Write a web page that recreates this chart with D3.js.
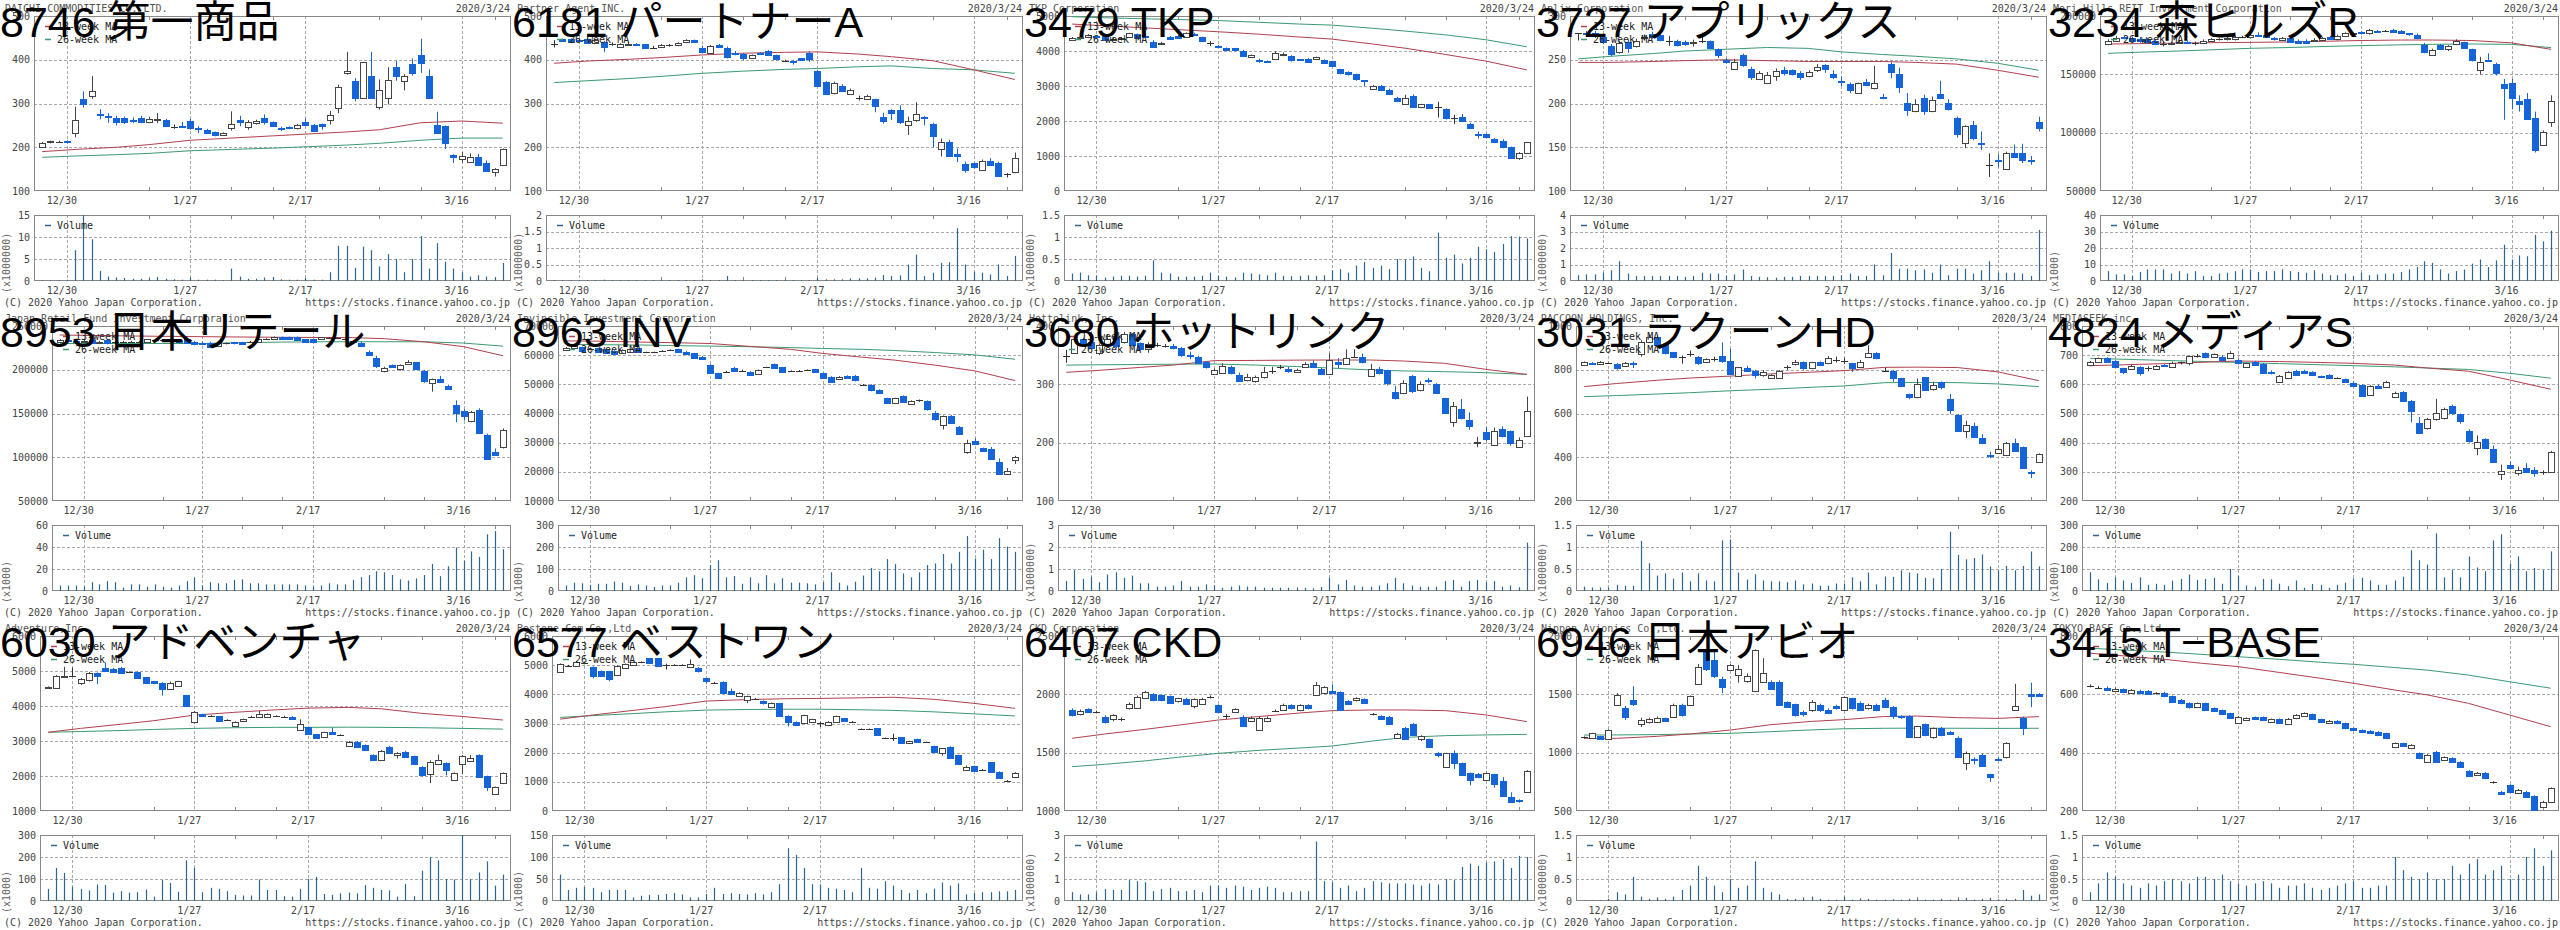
<!DOCTYPE html>
<html><head><meta charset="utf-8">
<script src="https://cdn.jsdelivr.net/npm/d3@7"></script>
<style>html,body{margin:0;padding:0;background:#fff;}svg{display:block}</style>
</head><body>
<svg id="chart" width="2560" height="930"></svg>
<script>
// ---------- categories ----------
const tradingDays = ["12/25","12/26","12/27","12/30","1/6","1/7","1/8","1/9","1/10","1/14","1/15","1/16","1/17","1/20","1/21","1/22","1/23","1/24","1/27","1/28","1/29","1/30","1/31","2/3","2/4","2/5","2/6","2/7","2/10","2/12","2/13","2/14","2/17","2/18","2/19","2/20","2/21","2/25","2/26","2/27","2/28","3/2","3/3","3/4","3/5","3/6","3/9","3/10","3/11","3/12","3/13","3/16","3/17","3/18","3/19","3/23","3/24"];
const gridDays = ["12/30","1/27","2/17","3/16"];
const weekTickDays = ["1/20","2/3","2/10","3/2","3/9","3/23"];
const maDays = ["12/25","1/6","1/14","1/20","1/27","2/3","2/10","2/17","2/25","3/2","3/9","3/16","3/24"];

const titles = ["8746 第一商品","6181 パートナーA","3479 TKP","3727 アプリックス","3234 森ヒルズR","8953 日本リテール","8963 INV","3680 ホットリンク","3031 ラクーンHD","4824 メディアS","6030 アドベンチャ","6577 ベストワン","6407 CKD","6946 日本アビオ","3415 T−BASE"];
const companies = ["DAICHI COMMODITIES CO.,LTD.","Partner Agent INC.","TKP Corporation","Aplix Corporation","Mori Hills REIT Investment Corporation","Japan Retail Fund Investment Corporation","Invincible Investment Corporation","Hottolink, Inc.","RACCOON HOLDINGS, Inc.","MEDIASEEK,inc.","Adventure,Inc.","Bestone.Com Co.,Ltd","CKD Corporation","Nippon Avionics Co.,Ltd.","TOKYO BASE Co.,Ltd."];
const priceTicks = [[100,200,300,400,500],[100,200,300,400,500],[0,1000,2000,3000,4000,5000],[100,150,200,250,300],[50000,100000,150000,200000],[50000,100000,150000,200000,250000],[10000,20000,30000,40000,50000,60000,70000],[100,200,300,400],[200,400,600,800,1000],[200,300,400,500,600,700,800],[1000,2000,3000,4000,5000,6000],[0,1000,2000,3000,4000,5000,6000],[1000,1500,2000,2500],[500,1000,1500,2000],[200,400,600,800]];
const volTicks = [[0,5,10,15],[0,0.5,1,1.5,2],[0,0.5,1,1.5],[0,1,2,3,4],[0,10,20,30,40],[0,20,40,60],[0,100,200,300],[0,1,2,3],[0,0.5,1,1.5],[0,100,200,300],[0,100,200,300],[0,50,100,150],[0,1,2,3],[0,0.5,1,1.5],[0,0.5,1,1.5]];
const volUnits = ["(x1000000)","(x1000000)","(x1000000)","(x1000000)","(x1000)","(x1000)","(x1000)","(x1000000)","(x1000000)","(x1000)","(x1000)","(x1000)","(x1000000)","(x1000000)","(x1000000)"];

// ---------- series: [open, high, low, close] ----------
const ohlc_8746 = [[201,212,199,210],[211,215,209,214],[213,215,211,213],[214,216,209,211],[232,293,223,262],[310,328,291,300],[318,363,311,329],[275,287,264,273],[272,278,256,270],[267,272,250,257],[266,270,253,257],[262,268,255,261],[268,272,255,258],[258,270,255,265],[264,278,255,265],[262,265,246,249],[247,252,242,247],[248,258,245,247],[259,265,240,243],[245,248,232,241],[239,242,230,232],[234,236,225,227],[227,234,226,233],[245,282,238,254],[262,272,248,258],[246,262,240,257],[255,263,252,260],[268,275,252,258],[257,259,247,249],[245,247,237,242],[246,248,241,243],[243,253,241,250],[257,266,248,251],[252,253,236,238],[253,254,240,248],[262,283,252,273],[289,343,278,337],[369,418,366,375],[351,358,305,313],[313,395,312,394],[363,418,311,313],[291,355,286,331],[313,383,298,354],[383,398,352,364],[351,367,330,364],[390,403,364,370],[411,448,370,393],[363,378,313,313],[250,281,233,233],[249,250,196,210],[182,184,164,177],[173,189,165,180],[167,186,165,178],[178,185,158,160],[165,170,145,146],[144,152,133,150],[159,197,158,196]];
const vol_8746 = [0.2,0.2,0.2,0.3,7,15,9.5,2.3,1,0.8,0.7,0.5,0.5,0.5,0.9,0.5,0.4,0.3,0.8,0.3,0.3,0.3,0.2,2.8,1,0.5,0.5,0.8,0.9,0.4,0.3,0.3,0.7,0.3,0.3,2,8,8,3,7.8,7,3.3,6.1,5,2,5,10.2,2.8,8.6,4.4,2.8,2,1,1.3,1,0.8,4.1];
const ma13_8746 = [190,195,200,206,216,221,226,230,235,240,256,260,255];
const ma26_8746 = [177,180,183,186,192,195,198,201,205,209,216,221,221];

const ohlc_6181 = [[437,445,428,437],[447,448,442,444],[447,449,438,440],[445,447,440,444],[447,450,436,439],[439,447,437,445],[441,443,418,430],[437,440,432,437],[430,438,429,437],[436,440,433,437],[437,438,432,434],[435,436,427,428],[428,432,425,428],[429,436,427,434],[434,436,430,434],[433,440,431,438],[440,447,438,445],[445,446,439,440],[428,432,415,418],[415,434,414,432],[434,436,428,430],[428,430,403,407],[416,420,410,415],[413,415,399,403],[405,412,403,410],[415,417,411,414],[419,422,409,411],[410,412,399,401],[398,400,396,398],[397,399,389,396],[403,404,397,399],[415,419,395,402],[374,377,339,341],[349,351,319,321],[323,350,321,348],[340,344,326,329],[321,334,320,332],[312,318,307,312],[310,320,308,317],[310,311,280,294],[270,279,254,259],[285,287,262,278],[285,296,253,257],[250,270,228,261],[262,303,258,275],[270,271,250,267],[253,256,200,226],[196,220,179,213],[213,217,178,180],[185,197,166,180],[162,167,142,148],[163,165,151,156],[148,172,147,169],[169,175,158,160],[163,167,134,135],[138,141,131,138],[143,188,141,176]];
const vol_6181 = [0.03,0.03,0.03,0.03,0.03,0.03,0.04,0.03,0.03,0.03,0.03,0.03,0.03,0.03,0.03,0.03,0.03,0.03,0.05,0.03,0.03,0.15,0.03,0.03,0.03,0.03,0.03,0.03,0.03,0.03,0.03,0.03,0.1,0.05,0.05,0.05,0.08,0.08,0.08,0.1,0.18,0.15,0.17,0.5,0.8,0.15,0.25,0.55,0.57,1.6,0.5,0.28,0.25,0.2,0.5,0.15,0.76];
const ma13_6181 = [392,397,401,405,411,415,417,418,413,407,398,377,355];
const ma26_6181 = [348,352,357,362,369,374,378,380,384,386,380,377,369];

const ohlc_3479 = [[4320,4400,4300,4380],[4380,4420,4340,4390],[4390,4480,4370,4450],[4420,4450,4380,4410],[4430,4460,4290,4320],[4320,4400,4290,4350],[4350,4400,4300,4360],[4410,4520,4390,4500],[4480,4500,4350,4380],[4440,4480,4400,4430],[4270,4310,4090,4120],[4230,4260,4200,4240],[4410,4430,4330,4350],[4440,4460,4360,4380],[4410,4530,4390,4500],[4480,4520,4440,4470],[4390,4410,4280,4300],[4240,4280,4140,4240],[4150,4170,4090,4110],[4090,4100,4020,4040],[4080,4090,4020,4040],[4010,4030,3840,3860],[3820,3900,3800,3890],[3740,3780,3660,3730],[3720,3730,3700,3710],[3780,3990,3760,3930],[3900,3960,3850,3910],[3860,3880,3700,3740],[3760,3770,3730,3750],[3780,3800,3660,3680],[3760,3840,3740,3820],[3740,3760,3650,3670],[3710,3720,3540,3580],[3480,3490,3330,3380],[3410,3420,3300,3340],[3340,3350,3150,3190],[3160,3170,3000,3150],[2910,3030,2890,3010],[3000,3030,2860,2890],[2900,2920,2740,2770],[2670,2690,2540,2570],[2500,2750,2480,2670],[2710,2760,2390,2410],[2410,2490,2370,2480],[2480,2490,2370,2380],[2410,2550,2100,2410],[2340,2360,2040,2080],[2080,2180,1910,2080],[2120,2200,1970,2000],[1910,1950,1780,1790],[1630,1700,1500,1610],[1620,1640,1520,1530],[1490,1510,1380,1410],[1430,1480,1220,1270],[1250,1270,930,930],[930,1110,890,1100],[1100,1400,1080,1390]];
const vol_3479 = [0.17,0.19,0.13,0.12,0.08,0.1,0.12,0.12,0.1,0.12,0.47,0.19,0.17,0.1,0.1,0.1,0.12,0.19,0.12,0.1,0.08,0.19,0.17,0.15,0.13,0.19,0.12,0.11,0.12,0.13,0.12,0.13,0.24,0.27,0.19,0.35,0.43,0.3,0.35,0.27,0.5,0.49,0.56,0.3,0.22,1.1,0.53,0.6,0.4,0.53,0.78,0.72,0.66,0.84,1.02,1.01,0.97];
const ma13_3479 = [4770,4720,4660,4610,4550,4480,4400,4340,4200,4080,3900,3710,3460];
const ma26_3479 = [4980,4950,4920,4900,4870,4820,4770,4740,4650,4570,4460,4320,4120];

const ohlc_3727 = [[280,280,272,280],[281,283,277,280],[280,283,275,277],[276,278,268,270],[266,268,254,257],[259,272,257,269],[270,273,258,263],[266,274,264,272],[275,279,272,276],[279,282,274,276],[278,280,271,273],[272,277,266,272],[272,273,265,267],[270,272,266,268],[269,273,265,270],[272,281,269,272],[271,272,262,264],[262,263,252,256],[250,252,246,247],[240,251,239,248],[255,257,242,244],[240,242,227,230],[228,237,227,235],[224,236,223,233],[231,240,226,237],[238,242,232,235],[238,239,232,234],[235,237,227,230],[231,238,230,236],[238,245,236,242],[244,245,235,239],[234,238,228,230],[226,231,220,225],[222,224,212,215],[212,224,211,223],[225,228,220,221],[218,243,216,223],[208,211,206,207],[245,247,229,236],[234,241,212,219],[201,212,186,193],[192,205,190,200],[206,210,187,192],[191,208,190,204],[211,226,205,206],[201,205,192,194],[184,185,161,165],[155,175,149,174],[176,180,158,161],[155,168,147,154],[130,143,116,130],[135,142,127,134],[125,145,124,144],[143,153,138,139],[144,154,132,136],[136,140,130,135],[179,185,168,172]];
const vol_3727 = [0.35,0.4,0.4,0.5,0.65,1.2,0.45,0.3,0.3,0.3,0.3,0.3,0.3,0.25,0.3,0.5,0.45,0.45,0.3,0.4,0.7,0.3,0.25,0.2,0.2,0.25,0.25,0.3,0.3,0.3,0.3,0.3,0.35,0.45,0.3,0.3,1.0,0.35,1.7,0.75,0.75,0.65,0.7,0.5,1.0,0.35,0.75,0.75,0.45,0.65,1.2,0.5,0.5,0.5,0.45,0.3,3.1];
const ma13_3727 = [247,247,248,249,250,249,248,248,248,247,245,238,230];
const ma26_3727 = [251,254,257,260,262,264,263,259,256,254,251,246,238];

const ohlc_3234 = [[176000,180000,175000,179000],[179000,183000,178000,181000],[182000,183000,180000,181000],[181000,182000,178000,179000],[180000,182000,177000,179000],[180000,181000,176000,178000],[179000,180000,175000,176000],[176000,178000,174000,176000],[176000,178000,175000,177000],[177000,179000,176000,178000],[178000,179000,176000,176600],[177000,178000,175000,177000],[177000,180000,176000,179000],[179000,181000,178000,180000],[180000,181000,179000,180000],[180000,182000,179000,181000],[180000,183000,179000,182000],[182000,183000,181000,182000],[182000,185000,181000,184000],[184000,186000,182000,183700],[184000,185000,181000,182000],[181000,182000,179000,180000],[179500,182000,179000,181500],[181000,182000,177000,178000],[179000,180000,176000,177000],[179000,180000,176000,177000],[179000,181000,178000,179500],[179500,182000,179000,181500],[181800,183000,180000,180400],[180000,184000,179000,183000],[183000,186000,182000,185000],[185500,186000,185000,185700],[186600,187000,184000,185000],[185000,189000,184000,188000],[187500,188000,187000,187400],[187400,188000,186500,187400],[188000,189000,186000,186300],[187000,188000,185000,185700],[185000,185500,183000,184500],[184000,185000,180000,181000],[175000,177000,168000,169400],[167000,172000,166000,171000],[175000,176000,171000,172000],[172000,175000,170000,174000],[176000,180000,175000,179000],[177700,178000,172000,173000],[171400,172000,161000,162300],[154000,165000,150000,161000],[162000,168000,161000,161700],[159000,160000,149000,151400],[141700,146000,111000,138600],[143000,146000,120000,129400],[127400,132000,118000,125000],[129000,134000,111000,112000],[113000,118000,83000,85000],[89400,102000,89000,101000],[109400,132000,105000,127400]];
const vol_3234 = [6,4,4,3,5.5,7,7,7,4.5,6,4.5,6,3,3,4.5,5,6,7,7,5.5,6,6,7,6,5.5,5,6.5,4.5,3.5,3.5,4.5,3,5,3.5,4,4.5,4.5,5.5,7,8.5,12,11,7,4.5,6,7,10.5,13,8.5,12.5,22,13,15.5,15,28,24,30.5];
const ma13_3234 = [176000,176300,176800,177100,177400,177800,178400,179000,179400,179400,179000,177000,171400];
const ma26_3234 = [168000,169000,170000,171000,172300,173000,174000,174600,175300,175700,176000,175700,172900];

const ohlc_8953 = [[232000,235000,231000,234000],[234000,235000,232000,233000],[233000,234000,231000,232000],[232000,234000,231000,233000],[234000,235000,230000,231000],[231000,233000,230000,232000],[234000,235000,229000,230000],[232000,233000,231000,232000],[232000,233000,231000,232000],[232000,233000,231000,232000],[232000,233000,231000,232000],[232000,235000,231000,234700],[234000,235000,233000,234000],[234000,235000,233000,234000],[234000,235000,233000,234000],[234000,235000,231000,232000],[234700,235000,230000,231000],[232000,233000,228000,229000],[231000,232000,228000,229000],[231000,232000,225000,226400],[227500,231000,227000,230000],[230000,231000,229000,230000],[231700,232000,229000,230000],[231700,232000,229000,229800],[232000,233000,231000,232000],[232000,235000,231000,234700],[234700,236000,234000,234700],[234700,238000,234000,237000],[237800,238000,234000,235000],[237000,238000,234000,234700],[237800,238000,233000,234000],[234700,235000,231000,232000],[234700,235000,231000,232000],[234700,237500,234000,237000],[235900,237000,235000,235900],[235900,237000,235000,235900],[235000,236000,234000,235000],[232500,233000,231000,232000],[231000,232000,226000,227500],[220700,222000,216000,216900],[213000,216000,202000,204700],[198600,203500,197000,202400],[205400,206000,202000,202800],[200500,206000,199000,205400],[206600,211000,206000,209000],[208500,209000,200000,201200],[199000,200000,185000,187500],[184500,190000,175000,189000],[189400,193000,185000,186000],[181800,183000,177000,178000],[159700,165000,140000,150200],[152900,155000,142000,147500],[141800,153000,140000,151300],[154000,156000,127000,127300],[125400,127000,97000,97600],[106000,110000,102000,103000],[112000,133000,110000,131000]];
const vol_8953 = [5,5,5,4,8,6,9,8,3,6,6,4,6,4,3,5,9,12.5,5,8,7,7,10,10.5,7,7,6,6,6,6,6,5,4,5,7,6,6,10,12.5,14.5,18,17,14.5,10.5,9.5,11.5,14.5,24.5,13.5,22.5,39.5,27.5,36,31,51.5,54.5,38];
const ma13_8953 = [239700,239200,238600,238200,237800,237400,237100,236900,236700,235500,232000,226400,216000];
const ma26_8953 = [230000,230000,230000,230000,230000,231000,231600,232000,232000,232000,232000,230500,227000];

const ohlc_8963 = [[61800,62800,61600,62600],[62300,63300,62100,63100],[62700,62900,61300,61500],[62000,62300,61700,62000],[62300,62500,61000,61200],[62000,62200,60700,60900],[61500,61700,60100,60300],[60900,62000,60700,61800],[61200,62200,61000,62000],[62300,62500,61000,61200],[61000,61200,60800,61000],[61000,61200,60800,61000],[61500,61700,61300,61500],[61800,62000,61600,61800],[62000,62200,60900,61100],[61200,61400,60100,60300],[60600,60800,58700,58900],[59500,59700,58400,58600],[56600,56900,53500,54000],[53800,54000,52000,52300],[54300,54600,54000,54300],[55700,56000,54400,54600],[54700,55000,54500,54700],[54300,54500,53000,53200],[53600,55100,53400,54900],[55800,56000,55600,55800],[56900,57100,55300,55500],[55800,56000,54100,54300],[54600,54800,54400,54600],[54700,54900,54500,54700],[54900,55100,54700,54900],[55100,55300,54100,54300],[53800,54000,52100,52300],[52600,52800,50500,50700],[51700,52800,51500,52600],[52900,53100,52100,52300],[53000,53200,51000,51500],[49800,50100,49500,49800],[49800,50000,47600,48100],[48100,48300,46700,46900],[45200,45400,43500,43700],[43500,45400,43300,45200],[46000,46200,43900,44100],[43300,44500,43100,44300],[44600,44800,44000,44600],[44300,44500,41000,41400],[40300,40800,37500,38000],[36100,39300,34500,39100],[39100,39500,36400,36600],[35500,35700,32800,33000],[26900,31000,26200,29800],[30600,31500,29300,29500],[28100,28300,27100,27300],[27700,28500,24200,24400],[23500,24600,19000,19100],[19100,21300,18900,20300],[24100,25500,22700,25200]];
const vol_8963 = [25,38,35,28,33,33,43,38,22,30,25,18,25,25,38,62,72,58,118,140,62,68,33,62,35,72,35,58,38,38,35,30,40,85,38,25,42,70,105,90,145,122,80,62,85,118,125,168,125,178,250,148,188,145,240,202,178];
const ma13_8963 = [64900,64800,64500,64300,64000,63000,62000,60600,59300,58300,56600,54600,51300];
const ma26_8963 = [63700,63600,63500,63300,63100,62900,62600,62300,62000,61600,60900,60100,58600];

const ohlc_3680 = [[349,359,337,349],[354,378,352,377],[377,380,365,368],[373,376,360,362],[353,370,350,367],[368,385,366,377],[382,386,362,365],[373,390,370,387],[386,388,365,367],[370,372,358,361],[360,372,354,369],[367,371,364,367],[366,369,363,366],[366,369,360,362],[362,364,347,350],[350,356,343,349],[347,349,335,337],[339,340,327,329],[318,327,316,325],[320,336,318,331],[330,332,317,319],[316,320,304,306],[307,318,305,313],[305,315,303,313],[312,330,310,321],[323,330,318,323],[329,333,326,329],[327,330,320,323],[321,327,320,325],[329,338,328,335],[336,341,328,330],[327,328,317,318],[318,353,316,342],[339,345,328,335],[335,360,333,346],[347,360,345,347],[347,353,336,338],[314,335,313,327],[326,330,317,320],[324,325,298,302],[287,297,274,277],[286,307,283,302],[315,316,285,289],[290,305,288,300],[307,311,302,306],[300,302,285,286],[276,277,249,251],[235,270,227,263],[258,275,240,243],[239,252,222,229],[200,210,192,201],[218,227,203,206],[196,226,195,220],[223,228,209,211],[220,221,195,200],[193,209,192,205],[211,279,210,255]];
const vol_3680 = [0.45,0.95,0.55,0.65,0.4,0.75,0.85,0.6,0.7,0.35,0.35,0.2,0.2,0.25,0.45,0.2,0.2,0.3,0.25,0.15,0.2,0.25,0.2,0.2,0.15,0.15,0.15,0.15,0.12,0.15,0.12,0.18,0.6,0.3,0.5,0.25,0.2,0.2,0.25,0.35,0.6,0.35,0.25,0.2,0.2,0.2,0.45,0.5,0.2,0.45,0.5,0.4,0.45,0.2,0.25,0.15,2.2];
const ma13_3680 = [320.6,324,329,333,340.6,341,341.5,341.7,341.7,340,336,325.7,317];
const ma26_3680 = [333,333.5,334,334.5,334.9,333,330.5,328,324.6,323,321.7,320,317];

const ohlc_3031 = [[822,838,818,834],[832,835,822,825],[826,840,823,837],[829,833,826,829],[826,830,800,806],[819,835,816,832],[833,838,808,827],[870,935,860,928],[928,960,925,950],[951,960,910,913],[913,918,870,875],[880,882,855,860],[857,865,828,857],[870,888,860,870],[860,862,822,829],[834,852,830,849],[848,860,838,848],[863,925,832,842],[840,895,780,781],[773,813,770,811],[806,818,790,796],[796,800,760,774],[776,798,768,791],[761,780,758,776],[761,798,758,796],[814,820,800,814],[825,845,820,837],[837,838,800,806],[806,836,803,834],[834,838,818,822],[829,862,826,852],[845,860,833,845],[840,855,826,840],[829,832,790,806],[814,845,808,837],[857,912,855,878],[875,880,848,852],[796,810,790,796],[794,797,745,761],[761,763,722,726],[689,690,665,674],[674,760,670,735],[765,767,705,707],[710,745,705,730],[745,747,710,723],[666,690,598,616],[593,598,518,522],[521,567,488,547],[543,558,492,494],[486,505,460,464],[412,425,395,408],[418,455,415,436],[410,470,406,464],[467,485,425,430],[448,449,348,349],[333,340,305,329],[377,418,374,415]];
const vol_3031 = [0.1,0.08,0.08,0.08,0.14,0.12,0.12,1.14,0.63,0.35,0.4,0.28,0.42,0.22,0.4,0.24,0.22,1.15,1.17,0.42,0.26,0.38,0.24,0.22,0.22,0.2,0.24,0.15,0.17,0.12,0.12,0.17,0.17,0.31,0.22,0.42,0.15,0.33,0.32,0.47,0.42,0.4,0.3,0.29,0.5,1.35,0.82,0.72,0.75,0.83,0.56,0.47,0.57,0.47,0.57,0.9,0.56];
const ma13_3031 = [723,737,752,762,771,781,789,796,811,812,810,790,750];
const ma26_3031 = [677,682,689,695,704,711,720,726,741,742,741,735,723];

const ohlc_4824 = [[666,680,662,678],[678,692,676,689],[689,693,675,678],[680,683,658,660],[655,657,635,643],[651,668,649,664],[658,662,630,640],[655,662,645,655],[651,666,649,663],[668,670,660,663],[661,678,658,674],[675,678,668,675],[672,698,665,697],[697,704,692,697],[706,709,690,693],[693,706,691,703],[695,700,680,683],[691,714,688,709],[683,688,668,672],[661,674,658,672],[678,680,663,666],[670,673,637,640],[643,648,634,641],[609,632,606,629],[621,645,618,641],[646,650,629,632],[647,650,637,640],[642,645,630,632],[627,630,622,626],[632,635,619,621],[621,624,618,621],[618,620,606,609],[606,610,590,594],[598,600,557,560],[562,597,560,594],[595,600,587,589],[590,612,588,609],[558,575,555,569],[575,577,541,544],[544,546,470,510],[466,488,432,434],[449,485,445,481],[481,550,476,501],[483,520,480,515],[526,530,495,503],[497,500,465,475],[441,446,400,406],[381,425,357,403],[413,415,378,381],[377,390,330,335],[291,325,272,304],[323,335,308,312],[295,318,287,308],[312,330,297,300],[306,316,283,297],[298,305,290,298],[301,372,300,369]];
const vol_4824 = [85,53,37,62,48,37,62,28,33,28,47,55,75,50,55,60,33,100,68,25,20,55,53,33,22,48,15,32,28,15,28,38,57,60,48,28,28,48,65,185,140,120,262,62,95,62,157,107,90,230,258,125,157,90,105,95,180];
const ma13_4824 = [664,667,671,675,680,678,675,672,666,656,645,615,583];
const ma26_4824 = [689,686,682,679,675,671,667,664,660,656,651,638,621];

const ohlc_6030 = [[4520,4560,4500,4550],[4520,4880,4500,4870],[4860,5120,4800,4870],[4870,5100,4850,4870],[4650,4800,4600,4760],[4740,4970,4700,4950],[4950,4960,4620,4860],[5080,5240,4980,5010],[5060,5090,4950,4980],[5100,5120,4940,4950],[4960,4990,4940,4960],[4980,4990,4780,4790],[4820,4830,4640,4650],[4710,4720,4620,4650],[4670,4680,4300,4500],[4490,4700,4480,4650],[4580,4720,4560,4710],[4310,4320,3990,4010],[3530,3860,3500,3840],[3770,3780,3690,3710],[3720,3740,3700,3720],[3710,3720,3550,3570],[3600,3620,3580,3600],[3440,3560,3400,3530],[3570,3640,3550,3630],[3700,3720,3680,3700],[3700,3860,3680,3760],[3700,3790,3680,3770],[3710,3730,3690,3710],[3700,3720,3680,3700],[3700,3710,3620,3630],[3310,3620,3300,3480],[3390,3400,3180,3200],[3190,3200,3070,3080],[3120,3260,3100,3250],[3260,3380,3190,3200],[3170,3190,3150,3170],[2870,3000,2850,2960],[2980,3000,2830,2840],[2890,2900,2720,2740],[2600,2620,2450,2460],[2460,2740,2440,2720],[2840,2860,2630,2650],[2600,2680,2500,2670],[2700,2720,2540,2550],[2570,2580,2330,2340],[2270,2280,1980,2030],[2060,2450,1800,2410],[2330,2610,2320,2460],[2380,2390,2020,2170],[1900,2100,1870,2080],[2340,2600,2050,2570],[2430,2600,2400,2520],[2600,2620,1970,1980],[2000,2010,1570,1680],[1500,1700,1480,1680],[1790,2100,1780,2080]];
const vol_6030 = [55,150,128,65,55,48,75,73,38,45,38,40,52,20,95,82,42,185,150,40,60,55,45,28,25,25,98,50,50,22,20,55,100,110,32,28,35,38,35,72,60,50,48,20,78,22,138,200,185,100,98,300,100,130,180,70,120];
const ma13_6030 = [3250,3360,3480,3580,3740,3820,3890,3940,3960,3920,3790,3700,3600];
const ma26_6030 = [3250,3270,3300,3330,3360,3380,3390,3390,3395,3390,3380,3360,3340];

const ohlc_6577 = [[4780,5060,4750,5030],[4980,5010,4950,4980],[4980,5150,4950,5100],[5060,5090,5030,5060],[4950,4960,4550,4640],[4800,4820,4600,4640],[4800,4810,4450,4530],[4660,5000,4640,4980],[4890,5060,4870,5030],[5010,5120,5000,5100],[5100,5130,5070,5100],[5230,5240,5050,5060],[5230,5240,4960,4970],[5000,5050,4850,5000],[5000,5030,4970,5000],[5000,5030,4970,5000],[4950,5200,4940,5040],[4920,4930,4750,4810],[4550,4560,4380,4470],[4400,4430,4370,4400],[4430,4450,4040,4060],[4110,4200,3990,4010],[3940,4070,3920,4060],[3810,3950,3700,3940],[3840,3870,3810,3840],[3770,3790,3650,3690],[3580,3720,3550,3690],[3690,3700,3260,3270],[3270,3280,2900,3060],[3060,3070,2930,2950],[3010,3300,2990,3290],[3040,3160,3020,3150],[3010,3050,2880,3010],[2950,3080,2930,3060],[3060,3270,3040,3260],[3180,3190,3080,3100],[3060,3080,3040,3060],[2800,2830,2780,2800],[2800,2830,2780,2800],[2830,2840,2600,2610],[2490,2520,2470,2490],[2490,2650,2400,2490],[2530,2540,2330,2340],[2340,2410,2330,2400],[2470,2480,2370,2380],[2350,2380,2330,2350],[2230,2240,2020,2030],[2000,2160,1900,2150],[2210,2220,1800,1810],[1920,1930,1600,1610],[1410,1560,1380,1520],[1550,1560,1370,1380],[1410,1440,1390,1410],[1670,1680,1340,1350],[1350,1360,1110,1120],[1030,1060,1010,1030],[1180,1330,1170,1310]];
const vol_6577 = [60,25,30,32,30,20,25,25,25,8,12,14,14,16,18,15,8,8,16,30,16,18,16,15,18,15,20,38,120,105,75,38,38,30,28,25,20,75,30,28,45,35,25,18,25,18,28,42,35,40,15,18,20,20,22,22,25];
const ma13_6577 = [3150,3290,3450,3580,3770,3820,3850,3860,3880,3900,3830,3690,3520];
const ma26_6577 = [3210,3270,3340,3400,3460,3480,3490,3490,3470,3450,3400,3330,3260];

const ohlc_6407 = [[1870,1880,1810,1820],[1830,1870,1820,1860],[1875,1880,1845,1850],[1850,1860,1840,1850],[1810,1820,1750,1760],[1790,1830,1770,1820],[1790,1800,1770,1790],[1880,1930,1870,1920],[1885,1990,1880,1975],[1965,2030,1960,2020],[2000,2010,1940,1950],[1995,2000,1940,1950],[1985,1990,1920,1930],[1940,1970,1930,1965],[1960,1970,1910,1920],[1900,1965,1880,1960],[1920,1970,1910,1960],[1975,1990,1965,1975],[1910,1915,1845,1850],[1815,1830,1790,1815],[1850,1880,1840,1875],[1810,1820,1720,1730],[1775,1810,1770,1800],[1695,1810,1690,1800],[1775,1810,1760,1800],[1860,1870,1850,1860],[1870,1920,1860,1905],[1910,1915,1870,1880],[1865,1915,1855,1905],[1910,1915,1870,1880],[1995,2105,1990,2080],[2015,2070,2005,2065],[2030,2085,2000,2010],[2020,2025,1860,1870],[1945,1950,1910,1920],[1950,1975,1940,1970],[1960,1965,1920,1930],[1830,1840,1820,1830],[1815,1820,1780,1785],[1810,1815,1740,1745],[1630,1670,1625,1660],[1710,1720,1610,1620],[1750,1755,1645,1650],[1615,1650,1600,1645],[1615,1620,1540,1550],[1495,1505,1460,1480],[1380,1500,1370,1495],[1495,1520,1360,1415],[1410,1415,1300,1310],[1325,1330,1220,1270],[1320,1325,1280,1295],[1265,1330,1260,1325],[1315,1320,1200,1230],[1260,1290,1120,1125],[1120,1160,1070,1080],[1095,1100,1070,1085],[1165,1350,1160,1345]];
const vol_6407 = [0.4,0.3,0.3,0.4,0.55,0.5,0.5,0.95,0.9,0.85,0.45,0.55,0.6,0.45,0.45,0.5,0.4,0.7,0.7,0.6,0.7,0.65,0.5,0.6,0.65,0.6,0.4,0.4,0.45,0.45,2.7,0.9,0.85,0.6,0.7,0.45,0.6,0.9,0.85,0.8,0.8,0.8,0.75,0.7,0.8,0.75,1.0,0.95,1.55,1.7,1.6,1.75,1.8,1.9,1.5,2.05,2.0];
const ma13_6407 = [1623,1660,1700,1735,1780,1810,1840,1860,1866,1866,1860,1823,1766];
const ma26_6407 = [1380,1400,1430,1460,1494,1520,1540,1557,1600,1631,1646,1652,1657];

const ohlc_6946 = [[1131,1140,1120,1131],[1125,1170,1120,1165],[1140,1145,1110,1115],[1120,1200,1110,1195],[1410,1510,1400,1495],[1380,1400,1280,1310],[1450,1570,1400,1420],[1250,1300,1220,1280],[1265,1300,1250,1285],[1265,1310,1260,1300],[1295,1300,1265,1275],[1310,1420,1300,1410],[1410,1420,1310,1320],[1410,1490,1400,1485],[1585,1760,1580,1735],[1865,1880,1700,1715],[1795,1890,1640,1655],[1630,1650,1510,1565],[1710,1760,1700,1750],[1665,1750,1600,1720],[1615,1680,1600,1655],[1525,1885,1520,1880],[1610,1810,1600,1680],[1610,1620,1540,1550],[1610,1620,1400,1410],[1435,1440,1390,1395],[1415,1420,1310,1320],[1350,1360,1310,1330],[1365,1450,1350,1435],[1410,1420,1350,1365],[1370,1380,1330,1340],[1400,1410,1370,1380],[1370,1480,1360,1475],[1465,1470,1370,1380],[1430,1440,1360,1365],[1380,1420,1370,1410],[1410,1420,1355,1365],[1455,1470,1390,1395],[1395,1400,1290,1315],[1315,1320,1290,1310],[1315,1320,1130,1135],[1135,1230,1130,1225],[1245,1250,1140,1150],[1135,1215,1120,1210],[1215,1220,1140,1150],[1180,1185,1150,1160],[1130,1140,960,965],[910,1010,850,995],[950,960,900,935],[980,990,885,890],[815,820,750,790],[950,960,930,940],[960,1090,950,1085],[1365,1590,1360,1400],[1300,1310,1150,1210],[1500,1600,1390,1485],[1500,1510,1480,1490]];
const vol_6946 = [0.01,0.01,0.02,0.05,0.2,0.15,0.55,0.1,0.05,0.08,0.05,0.1,0.25,0.35,0.8,0.55,0.35,0.2,0.5,0.3,0.35,0.9,0.3,0.2,0.15,0.05,0.05,0.08,0.1,0.05,0.03,0.03,0.1,0.03,0.06,0.05,0.03,0.03,0.04,0.03,0.05,0.04,0.03,0.03,0.05,0.03,0.05,0.07,0.03,0.05,0.07,0.04,0.05,0.05,0.25,0.12,0.15];
const ma13_6946 = [1123,1123,1140,1160,1194,1240,1268,1283,1310,1314,1300,1294,1309];
const ma26_6946 = [1151,1152,1155,1160,1166,1180,1195,1205,1209,1210,1209,1208,1209];

const ohlc_3415 = [[629,634,624,629],[623,628,618,623],[623,627,612,615],[611,623,608,620],[617,620,606,609],[606,618,603,615],[613,616,600,603],[613,615,598,601],[603,607,599,603],[606,609,590,594],[594,596,572,575],[581,584,566,569],[571,573,551,555],[558,572,555,569],[569,571,543,546],[552,555,541,544],[546,548,530,533],[535,537,517,520],[503,525,500,521],[512,521,509,518],[521,524,512,515],[521,524,509,512],[506,517,503,514],[514,517,500,503],[500,519,497,516],[518,532,515,529],[526,538,523,535],[531,534,512,515],[514,516,503,506],[503,512,500,509],[509,512,498,501],[501,503,480,483],[483,486,475,478],[478,480,469,472],[474,477,466,469],[472,474,458,461],[466,468,448,451],[421,435,418,432],[432,434,420,423],[415,429,412,426],[398,401,378,381],[369,395,366,392],[403,406,366,369],[375,387,372,384],[381,384,366,369],[369,371,349,352],[338,341,317,320],[323,334,320,331],[331,334,309,312],[298,302,294,298],[266,269,255,258],[289,292,263,266],[261,275,258,272],[266,269,246,249],[251,254,198,202],[215,235,212,232],[232,281,229,278]];
const vol_3415 = [0.2,0.4,0.65,0.55,0.4,0.35,0.3,0.4,0.35,0.45,0.5,0.45,0.4,0.55,0.55,0.5,0.6,0.45,0.4,0.35,0.4,0.45,0.4,0.3,0.35,0.35,0.4,0.3,0.25,0.3,0.35,0.4,0.45,0.3,0.3,0.35,0.35,1.0,0.7,0.55,0.5,0.65,0.5,0.5,0.8,0.6,0.85,0.95,0.6,0.7,0.8,0.5,0.6,1.0,1.2,0.8,1.15];
const ma13_3415 = [741,732,720,708,695,675,655,638,615,598,569,529,489];
const ma26_3415 = [758,752,745,738,729,720,710,703,692,683,666,643,621];

const ohlcList = [ohlc_8746,ohlc_6181,ohlc_3479,ohlc_3727,ohlc_3234,ohlc_8953,ohlc_8963,ohlc_3680,ohlc_3031,ohlc_4824,ohlc_6030,ohlc_6577,ohlc_6407,ohlc_6946,ohlc_3415];
const volList = [vol_8746,vol_6181,vol_3479,vol_3727,vol_3234,vol_8953,vol_8963,vol_3680,vol_3031,vol_4824,vol_6030,vol_6577,vol_6407,vol_6946,vol_3415];
const ma13List = [ma13_8746,ma13_6181,ma13_3479,ma13_3727,ma13_3234,ma13_8953,ma13_8963,ma13_3680,ma13_3031,ma13_4824,ma13_6030,ma13_6577,ma13_6407,ma13_6946,ma13_3415];
const ma26List = [ma26_8746,ma26_6181,ma26_3479,ma26_3727,ma26_3234,ma26_8953,ma26_8963,ma26_3680,ma26_3031,ma26_4824,ma26_6030,ma26_6577,ma26_6407,ma26_6946,ma26_3415];

// ---------- drawing ----------
const svg = d3.select("#chart");
const PW = 512, PH = 310;
const MONO = "'DejaVu Sans Mono', 'Liberation Mono', monospace";
const BLUE = "#1565d8", DARK = "#444", RED = "#b0404e", GREEN = "#3a9a72", VOLC = "#2f6690";
const GRID = "#a8a8a8", FRAME = "#888", TXT = "#444";
const mainTop = 16, mainBot = 191, volTop = 215, volBot = 281, right = 511;

titles.forEach((title, k) => {
  const col = k % 5, row = Math.floor(k / 5);
  const g = svg.append("g").attr("transform", `translate(${col*PW},${row*PH})`);
  const pt = priceTicks[k], vt = volTicks[k];
  const maxChars = d3.max(pt.map(String).concat(vt.map(String)), s => s.length);
  const left = Math.round(15.5 + 6 * maxChars);
  const x = d3.scalePoint().domain(tradingDays).range([left, right]).padding(1);
  const y = d3.scaleLinear().domain(d3.extent(pt)).range([mainBot, mainTop]);
  const yv = d3.scaleLinear().domain(d3.extent(vt)).range([volBot, volTop]);
  const px = d => Math.round(x(d)) + 0.5;

  // header texts
  g.append("text").attr("x", 5).attr("y", 12).attr("font-family", MONO).attr("font-size", 10)
    .attr("fill", "#555").text(companies[k]);
  g.append("text").attr("x", 510).attr("y", 12).attr("text-anchor", "end").attr("font-family", MONO)
    .attr("font-size", 10).attr("fill", TXT).text("2020/3/24");

  const clipId = "clip" + k;
  g.append("clipPath").attr("id", clipId).append("rect")
    .attr("x", left).attr("y", mainTop).attr("width", right - left).attr("height", mainBot - mainTop);

  [[mainTop, mainBot, pt, y], [volTop, volBot, vt, yv]].forEach(([t, b, ticks, sc]) => {
    g.selectAll(null).data(ticks.slice(1, -1)).enter().append("line")
      .attr("x1", left).attr("x2", right)
      .attr("y1", d => Math.round(sc(d)) + 0.5).attr("y2", d => Math.round(sc(d)) + 0.5)
      .attr("stroke", GRID).attr("stroke-dasharray", "3,2");
    g.selectAll(null).data(gridDays).enter().append("line")
      .attr("x1", px).attr("x2", px).attr("y1", t).attr("y2", b)
      .attr("stroke", GRID).attr("stroke-dasharray", "3,2");
    g.selectAll(null).data(weekTickDays).enter().append("path")
      .attr("d", d => `M${px(d)},${t}v4M${px(d)},${b}v-4`).attr("stroke", FRAME);
    g.append("rect").attr("x", left + 0.5).attr("y", t + 0.5).attr("width", right - left - 1)
      .attr("height", b - t - 1).attr("fill", "none").attr("stroke", FRAME);
    g.selectAll(null).data(ticks).enter().append("text")
      .attr("x", left - 4).attr("y", d => sc(d) + 3.5).attr("text-anchor", "end")
      .attr("font-family", MONO).attr("font-size", 10).attr("fill", TXT).text(d => String(d));
    g.selectAll(null).data(gridDays).enter().append("text")
      .attr("x", d => x(d) - 5).attr("y", b + 13).attr("text-anchor", "middle")
      .attr("font-family", MONO).attr("font-size", 10).attr("fill", TXT).text(d => d);
  });

  // MA lines
  const cg = g.append("g").attr("clip-path", `url(#${clipId})`);
  const line = d3.line().x(d => x(d[0])).y(d => y(d[1]));
  cg.append("path").attr("d", line(maDays.map((d, i) => [d, ma26List[k][i]])))
    .attr("fill", "none").attr("stroke", GREEN).attr("stroke-width", 1);
  cg.append("path").attr("d", line(maDays.map((d, i) => [d, ma13List[k][i]])))
    .attr("fill", "none").attr("stroke", RED).attr("stroke-width", 1);

  // candles
  const data = ohlcList[k];
  tradingDays.forEach((d, i) => {
    if (!data[i]) return;
    const [o, h, l, c] = data[i];
    const cx = px(d);
    const flat = o === c, up = c > o;
    const colr = flat ? "#333" : (up ? DARK : BLUE);
    cg.append("line").attr("x1", cx).attr("x2", cx).attr("y1", y(h)).attr("y2", y(l))
      .attr("stroke", colr);
    if (flat) {
      cg.append("line").attr("x1", cx - 3.5).attr("x2", cx + 3.5)
        .attr("y1", Math.round(y(o)) + 0.5).attr("y2", Math.round(y(o)) + 0.5).attr("stroke", colr);
    } else {
      const yt = Math.round(y(Math.max(o, c))), yb = Math.round(y(Math.min(o, c)));
      cg.append("rect").attr("x", cx - 3).attr("y", yt + 0.5).attr("width", 6)
        .attr("height", Math.max(1, yb - yt)).attr("fill", up ? "#fff" : BLUE).attr("stroke", colr);
    }
  });

  // volume bars
  const vols = volList[k];
  g.selectAll(null).data(tradingDays.filter((d, i) => vols[i] != null)).enter().append("line")
    .attr("x1", d => Math.round(x(d)) + 0.5).attr("x2", d => Math.round(x(d)) + 0.5)
    .attr("y1", yv(0)).attr("y2", d => yv(vols[tradingDays.indexOf(d)]))
    .attr("stroke", VOLC).attr("stroke-width", 1.2);

  // legends
  const lg = [[26, RED, "13-week MA"], [39, GREEN, "26-week MA"], [225, VOLC, "Volume"]];
  lg.forEach(([yy, cc, tt]) => {
    g.append("line").attr("x1", left + 11).attr("x2", left + 17).attr("y1", yy + 0.5).attr("y2", yy + 0.5)
      .attr("stroke", cc).attr("stroke-width", 1.5);
    g.append("text").attr("x", left + 23).attr("y", yy + 3.5).attr("font-family", MONO)
      .attr("font-size", 10).attr("fill", "#222").text(tt);
  });

  g.append("text").attr("transform", "translate(10,293) rotate(-90)").attr("font-family", MONO)
    .attr("font-size", 10).attr("fill", "#666").text(volUnits[k]);

  g.append("text").attr("x", 4).attr("y", 306).attr("font-family", MONO).attr("font-size", 10)
    .attr("fill", TXT).text("(C) 2020 Yahoo Japan Corporation.");
  g.append("text").attr("x", 510).attr("y", 306).attr("text-anchor", "end").attr("font-family", MONO)
    .attr("font-size", 10).attr("fill", TXT).text("https://stocks.finance.yahoo.co.jp");

  // big title overlay
  g.append("text").attr("x", 0).attr("y", 37)
    .attr("font-family", "'Liberation Sans', 'Noto Sans CJK JP', sans-serif")
    .attr("font-size", 43).attr("fill", "#000").text(title);
});
</script>
</body></html>
